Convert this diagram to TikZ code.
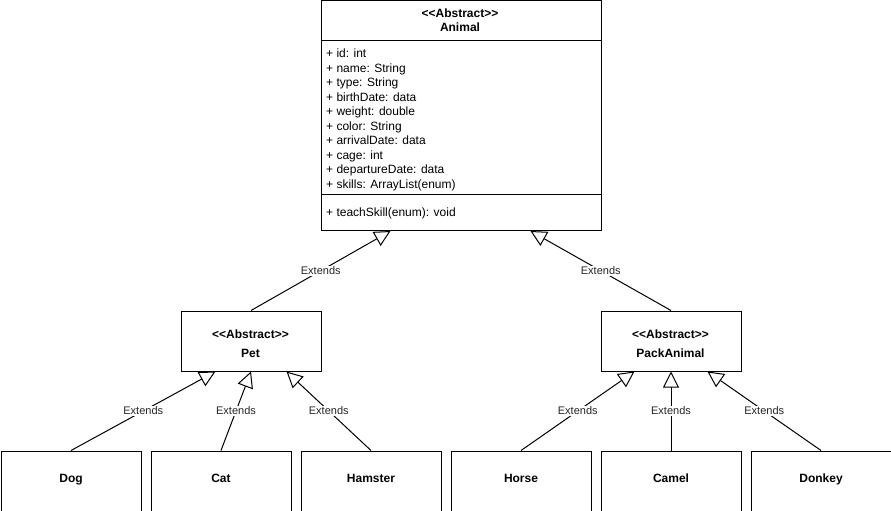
\documentclass[tikz,border=0pt]{standalone}
\usepackage{fontspec}
\setmainfont{Liberation Sans}
\usetikzlibrary{arrows.meta}
\newcommand{\abstag}{<\kern0pt<\kern0pt Abstract>\kern0pt>}
\tikzset{
  cls/.style={draw=black, line width=1pt, fill=white, rectangle, inner sep=0pt, anchor=north west},
  ttl/.style={font=\fontsize{12pt}{14pt}\selectfont\bfseries, inner sep=0pt, anchor=base},
  attr/.style={font=\fontsize{12pt}{14pt}\selectfont, inner sep=0pt, anchor=base west},
  ext/.style={line width=1pt, -{Triangle[length=16pt,width=16pt,fill=white,line width=1pt]}},
  lbl/.style={font=\fontsize{11pt}{13pt}\selectfont, fill=white, inner sep=1pt, text=black!85}
}
\begin{document}
\begin{tikzpicture}[x=1pt,y=-1pt]
\useasboundingbox (0,0) rectangle (891,511);
% Animal class
\node[cls, minimum width=280pt, minimum height=229.5pt] (animal) at (320.5,0.5) {};
\draw[line width=1pt] (animal.west |- 0,40.5) coordinate (s1) -- (animal.east |- 0,40.5) coordinate (s2);
\draw[line width=1pt] (animal.west |- 0,194.5) coordinate (s3) -- (animal.east |- 0,194.5) coordinate (s4);
\node[ttl] (abs0) at (460,17.5) {\abstag};
\node[ttl] (animalname) at (460,31.5) {Animal};
\foreach \t [count=\i] in {{+ id: int},{+ name: String},{+ type: String},{+ birthDate: data},{+ weight: double},{+ color: String},{+ arrivalDate: data},{+ cage: int},{+ departureDate: data},{+ skills: ArrayList(enum)}}
  \node[attr] (attr\i) at (326,{57.5+14.5*(\i-1)}) {\t};
\node[attr] (meth1) at (326,216.5) {+ teachSkill(enum): void};
% Abstract subclasses
\node[cls, minimum width=140pt, minimum height=60pt] (pet) at (180.5,310.5) {};
\node[ttl] (abs1) at (250.5,338.5) {\abstag};
\node[ttl] (petname) at (250.5,357.5) {Pet};
\node[cls, minimum width=140pt, minimum height=60pt] (pack) at (600.5,310.5) {};
\node[ttl] (abs2) at (670.5,338.5) {\abstag};
\node[ttl] (packname) at (670.5,357.5) {PackAnimal};
% Leaf classes
\foreach \n/\x/\t in {dog/0.5/Dog,cat/150.5/Cat,hamster/300.5/Hamster,horse/450.5/Horse,camel/600.5/Camel,donkey/750.5/Donkey}
  \node[cls, minimum width=140pt, minimum height=60pt, font=\fontsize{12pt}{14pt}\selectfont\bfseries, text height=9pt, text depth=5.5pt] (\n) at (\x,450.5) {\t};
% Inheritance connectors
\draw[ext] (pet.north) -- node[lbl] (l1) {Extends} ([xshift=70pt]animal.south west);
\draw[ext] (pack.north) -- node[lbl] (l2) {Extends} ([xshift=210pt]animal.south west);
\draw[ext] (dog.north) -- node[lbl] (l3) {Extends} ([xshift=35pt]pet.south west);
\draw[ext] (cat.north) -- node[lbl] (l4) {Extends} (pet.south);
\draw[ext] (hamster.north) -- node[lbl] (l5) {Extends} ([xshift=106pt]pet.south west);
\draw[ext] (horse.north) -- node[lbl] (l6) {Extends} ([xshift=34pt]pack.south west);
\draw[ext] (camel.north) -- node[lbl] (l7) {Extends} (pack.south);
\draw[ext] (donkey.north) -- node[lbl] (l8) {Extends} ([xshift=107pt]pack.south west);
\end{tikzpicture}
\end{document}
